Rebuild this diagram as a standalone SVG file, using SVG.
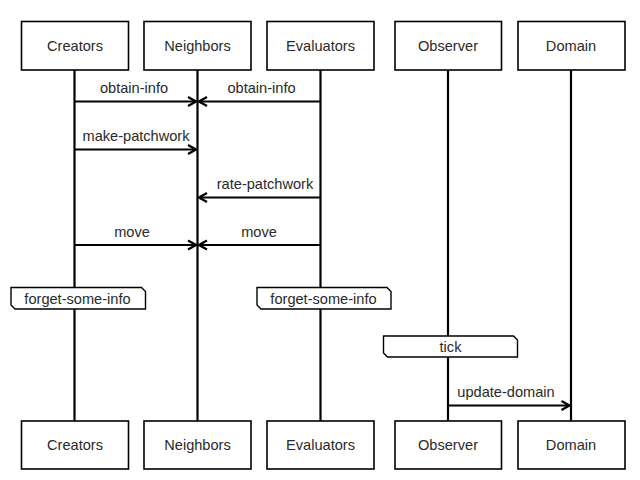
<svg xmlns="http://www.w3.org/2000/svg" width="640" height="480" viewBox="0 0 640 480">
<style>
.box{fill:#fff;stroke:#000;stroke-width:1.6}
.life{stroke:#000;stroke-width:2.2}
.msg{stroke:#000;stroke-width:2;fill:none}
.note{fill:#fff;stroke:#000;stroke-width:1.4}
text{font-family:"Liberation Sans",Arial,sans-serif;font-size:14.6px;fill:#2a2a2a;text-anchor:middle}
</style>
<defs>
<marker id="arr" markerWidth="12" markerHeight="12" viewBox="0 0 12 12" refX="10" refY="6" orient="auto" markerUnits="userSpaceOnUse">
<path d="M2,1.5 L10,6 L2,10.5" fill="none" stroke="#000" stroke-width="2.2"/>
</marker>
</defs>
<rect width="640" height="480" fill="#fff"/>
<g id="lifelines">
<line class="life" x1="74.5" y1="70" x2="74.5" y2="421"/>
<line class="life" x1="197.5" y1="70" x2="197.5" y2="421"/>
<line class="life" x1="320.5" y1="70" x2="320.5" y2="421"/>
<line class="life" x1="448" y1="70" x2="448" y2="421"/>
<line class="life" x1="571" y1="70" x2="571" y2="421"/>
</g>
<g id="connectors">
<line class="msg" x1="74.5" y1="101.5" x2="196" y2="101.5" marker-end="url(#arr)"/>
<text x="134" y="93">obtain-info</text>
<line class="msg" x1="320.5" y1="101.5" x2="199" y2="101.5" marker-end="url(#arr)"/>
<text x="261.5" y="93">obtain-info</text>
<line class="msg" x1="74.5" y1="149.5" x2="196" y2="149.5" marker-end="url(#arr)"/>
<text x="136" y="141">make-patchwork</text>
<line class="msg" x1="320.5" y1="197.5" x2="199" y2="197.5" marker-end="url(#arr)"/>
<text x="265" y="189">rate-patchwork</text>
<line class="msg" x1="74.5" y1="245" x2="196" y2="245" marker-end="url(#arr)"/>
<text x="132" y="237">move</text>
<line class="msg" x1="320.5" y1="245" x2="199" y2="245" marker-end="url(#arr)"/>
<text x="259" y="237">move</text>
<line class="msg" x1="448" y1="405.5" x2="569.5" y2="405.5" marker-end="url(#arr)"/>
<text x="506" y="397">update-domain</text>
</g>
<g id="note-forget-creators">
<path class="note" d="M11,287.5 H141.5 L145.5,291.5 V309 H15 L11,305 Z"/>
<text x="77.5" y="304">forget-some-info</text>
</g>
<g id="note-forget-evaluators">
<path class="note" d="M257,287.5 H387 L391,291.5 V309 H261 L257,305 Z"/>
<text x="323.5" y="304">forget-some-info</text>
</g>
<g id="note-tick">
<path class="note" d="M383.5,336 H513.5 L517.5,340 V357 H387.5 L383.5,353 Z"/>
<text x="450.5" y="352">tick</text>
</g>
<g id="creators-top"><rect class="box" x="21.5" y="21.5" width="107" height="48.5"/><text x="75" y="51">Creators</text></g>
<g id="neighbors-top"><rect class="box" x="144" y="21.5" width="107" height="48.5"/><text x="197.5" y="51">Neighbors</text></g>
<g id="evaluators-top"><rect class="box" x="267" y="21.5" width="107" height="48.5"/><text x="320.5" y="51">Evaluators</text></g>
<g id="observer-top"><rect class="box" x="395" y="21.5" width="106.5" height="48.5"/><text x="448" y="51">Observer</text></g>
<g id="domain-top"><rect class="box" x="518" y="21.5" width="107" height="48.5"/><text x="571" y="51">Domain</text></g>
<g id="creators-bottom"><rect class="box" x="21.5" y="421" width="107" height="48"/><text x="75" y="450">Creators</text></g>
<g id="neighbors-bottom"><rect class="box" x="144" y="421" width="107" height="48"/><text x="197.5" y="450">Neighbors</text></g>
<g id="evaluators-bottom"><rect class="box" x="267" y="421" width="107" height="48"/><text x="320.5" y="450">Evaluators</text></g>
<g id="observer-bottom"><rect class="box" x="395" y="421" width="106.5" height="48"/><text x="448" y="450">Observer</text></g>
<g id="domain-bottom"><rect class="box" x="518" y="421" width="107" height="48"/><text x="571" y="450">Domain</text></g>
</svg>
